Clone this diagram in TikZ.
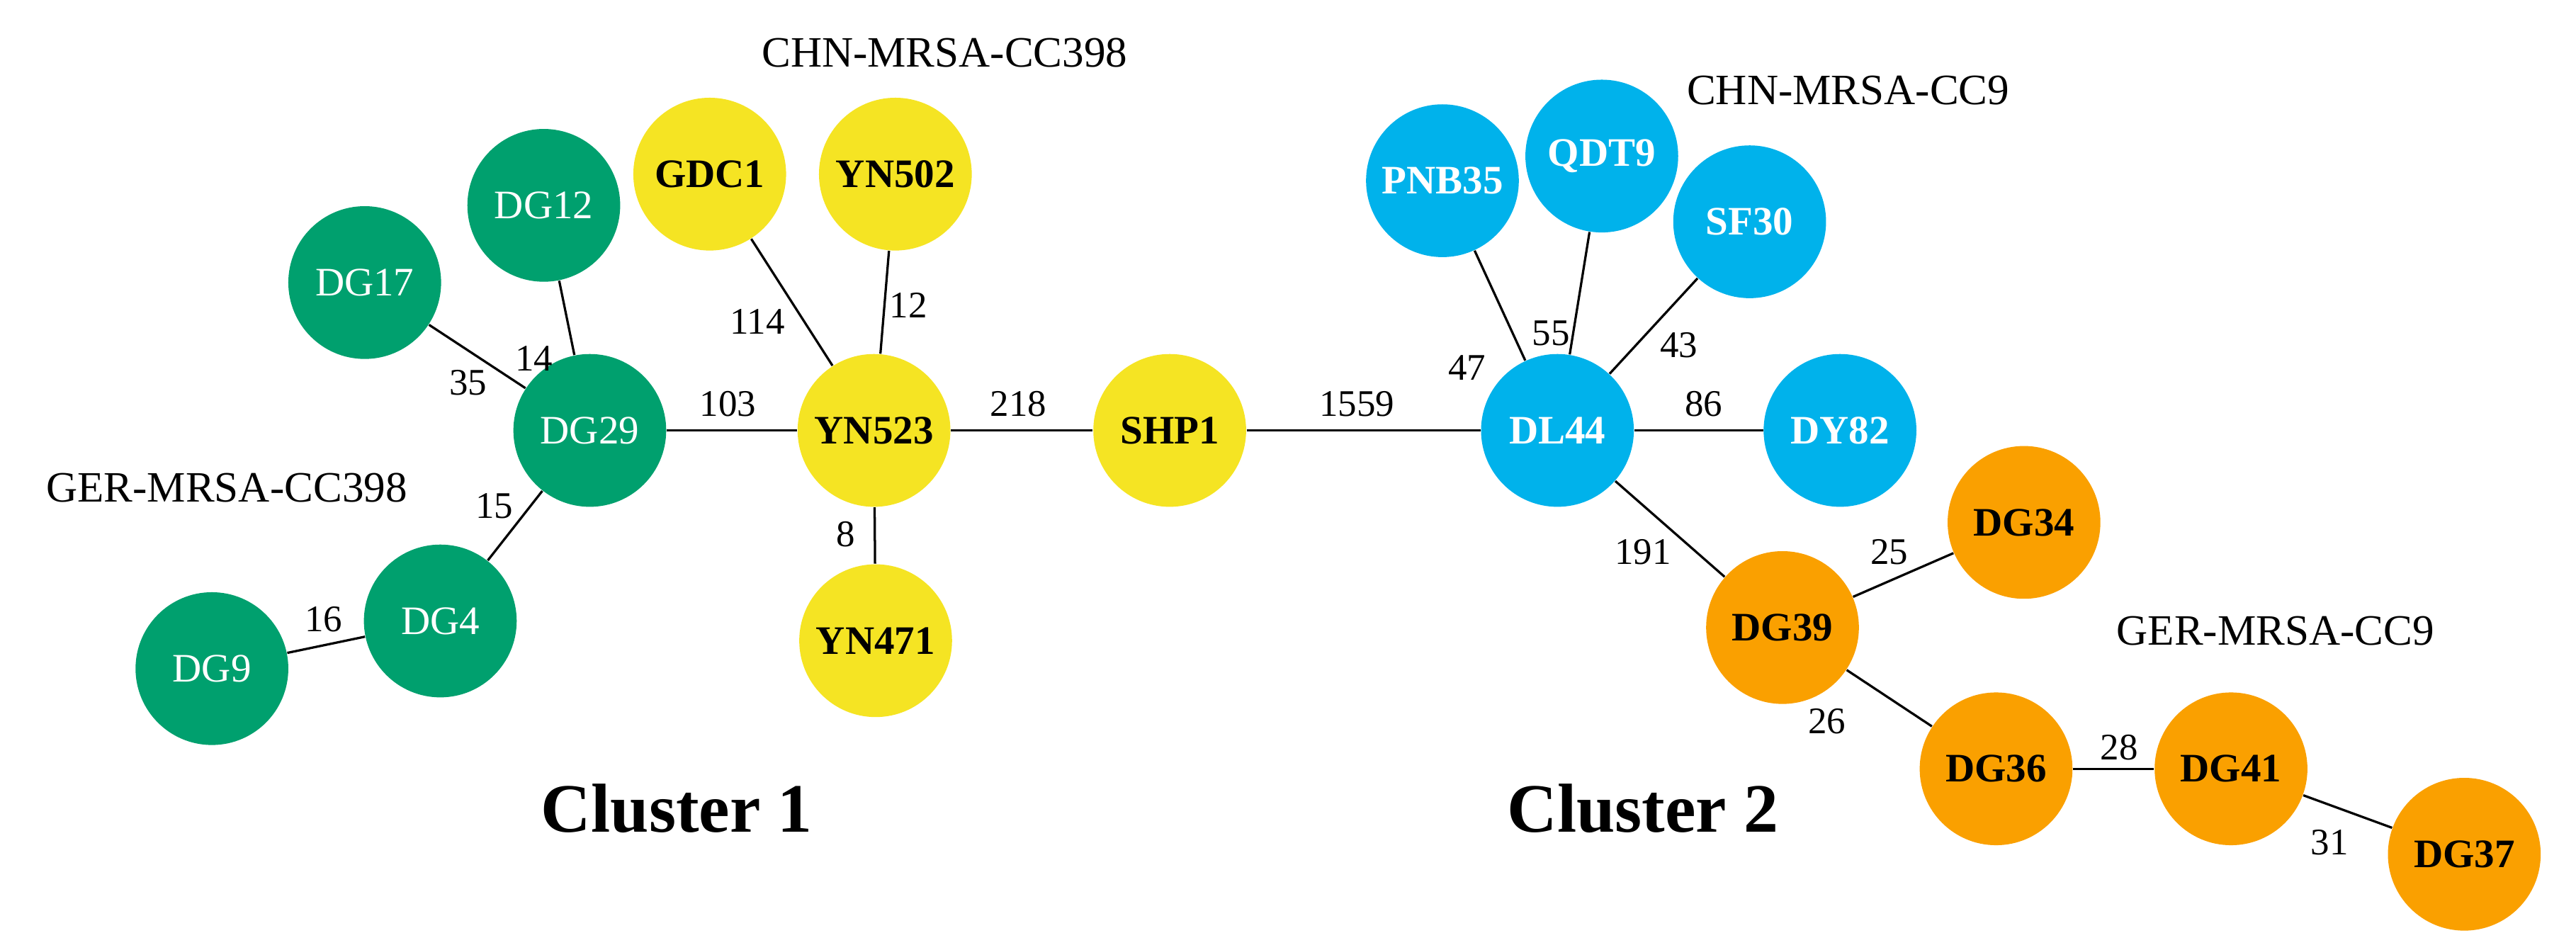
\documentclass[tikz,border=0pt]{standalone}
\usepackage{fontspec}
\setmainfont{Liberation Serif}
\begin{document}
\begin{tikzpicture}[x=0.2mm,y=-0.2mm,
 nd/.style={circle,minimum size=18.6mm,inner sep=0pt,font=\fontsize{14}{16}\selectfont},
 gr/.style={nd,fill={rgb,255:red,0;green,160;blue,110},text=white},
 ye/.style={nd,fill={rgb,255:red,245;green,228;blue,35},font=\fontsize{14}{16}\selectfont\bfseries},
 bl/.style={nd,fill={rgb,255:red,0;green,178;blue,235},text=white,font=\fontsize{14}{16}\selectfont\bfseries},
 or/.style={nd,fill={rgb,255:red,250;green,160;blue,0},font=\fontsize{14}{16}\selectfont\bfseries},
 lb/.style={font=\fontsize{13}{15}\selectfont},
 gl/.style={font=\fontsize{15}{17}\selectfont},
 ed/.style={line width=0.8pt}]
\useasboundingbox (0,0) rectangle (1568,578);
\node[gr] (DG12) at (331,125) {DG12};
\node[gr] (DG17) at (222,172) {DG17};
\node[gr] (DG29) at (359,262) {DG29};
\node[gr] (DG4) at (268,378) {DG4};
\node[gr] (DG9) at (129,407) {DG9};
\node[ye] (GDC1) at (432,106) {GDC1};
\node[ye] (YN502) at (545,106) {YN502};
\node[ye] (YN523) at (532,262) {YN523};
\node[ye] (YN471) at (533,390) {YN471};
\node[ye] (SHP1) at (712,262) {SHP1};
\node[bl] (PNB35) at (878,110) {PNB35};
\node[bl] (QDT9) at (975,95) {QDT9};
\node[bl] (SF30) at (1065,135) {SF30};
\node[bl] (DL44) at (948,262) {DL44};
\node[bl] (DY82) at (1120,262) {DY82};
\node[or] (DG39) at (1085,382) {DG39};
\node[or] (DG34) at (1232,318) {DG34};
\node[or] (DG36) at (1215,468) {DG36};
\node[or] (DG41) at (1358,468) {DG41};
\node[or] (DG37) at (1500,520) {DG37};
\begin{scope}[on background layer/.style={}]
\end{scope}
\draw[ed] (DG12)--(DG29); \draw[ed] (DG17)--(DG29); \draw[ed] (DG29)--(YN523);
\draw[ed] (DG29)--(DG4); \draw[ed] (DG4)--(DG9);
\draw[ed] (GDC1)--(YN523); \draw[ed] (YN502)--(YN523); \draw[ed] (YN523)--(YN471);
\draw[ed] (YN523)--(SHP1); \draw[ed] (SHP1)--(DL44);
\draw[ed] (PNB35)--(DL44); \draw[ed] (QDT9)--(DL44); \draw[ed] (SF30)--(DL44);
\draw[ed] (DL44)--(DY82); \draw[ed] (DL44)--(DG39); \draw[ed] (DG39)--(DG34);
\draw[ed] (DG39)--(DG36); \draw[ed] (DG36)--(DG41); \draw[ed] (DG41)--(DG37);
\node[lb] (l14) at (325,218) {14}; \node[lb] (l35) at (285,233) {35};
\node[lb] (l103) at (443,246) {103}; \node[lb] (l15) at (301,308) {15};
\node[lb] (l16) at (197,377) {16}; \node[lb] (l114) at (461,196) {114};
\node[lb] (l12) at (553,186) {12}; \node[lb] (l218) at (620,246) {218};
\node[lb] (l8) at (515,325) {8}; \node[lb] (l1559) at (826,246) {1559};
\node[lb] (l47) at (893,224) {47}; \node[lb] (l55) at (944,203) {55};
\node[lb] (l43) at (1022,210) {43}; \node[lb] (l86) at (1037,246) {86};
\node[lb] (l191) at (1000,336) {191}; \node[lb] (l25) at (1150,336) {25};
\node[lb] (l26) at (1112,439) {26}; \node[lb] (l28) at (1290,455) {28};
\node[lb] (l31) at (1418,513) {31};
\node[gl] (t1) at (575,32) {CHN-MRSA-CC398};
\node[gl] (t2) at (1125,55) {CHN-MRSA-CC9};
\node[gl] (t3) at (138,297) {GER-MRSA-CC398};
\node[gl] (t4) at (1385,384) {GER-MRSA-CC9};
\node[font=\fontsize{24}{28}\selectfont\bfseries] (c1) at (412,492) {Cluster 1};
\node[font=\fontsize{24}{28}\selectfont\bfseries] (c2) at (1000,492) {Cluster 2};
\end{tikzpicture}
\end{document}
